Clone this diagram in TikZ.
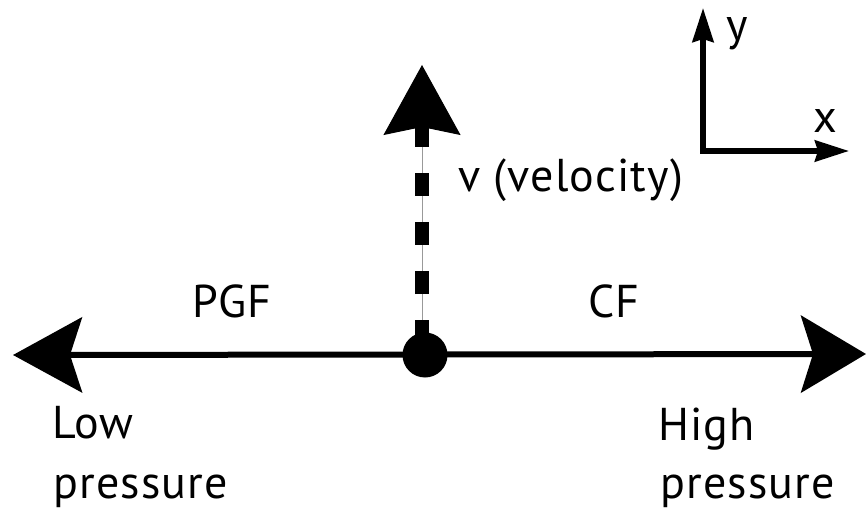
\documentclass[tikz,border=0pt]{standalone}
\usepackage{fontspec}
\setmainfont{PT Sans}[LetterSpace=2.5]
\usetikzlibrary{arrows.meta}
\begin{document}
\begin{tikzpicture}[x=1pt,y=-1pt,
  lbl/.style={inner sep=0pt, anchor=base west, font=\fontsize{46}{56}\selectfont},
  mainline/.style={line width=6pt},
  axisline/.style={line width=5.5pt, line join=miter,
    {Stealth[length=34pt,width=21pt,inset=3pt]}-{Stealth[length=34pt,width=21pt,inset=3pt]}},
  dotnode/.style={circle, fill=black, inner sep=0pt, minimum size=45pt}]
\useasboundingbox (0,0) rectangle (866,510);
% main horizontal line
\coordinate (L) at (13,355);
\coordinate (R) at (866,354);
\draw[mainline, {Stealth[length=69pt,width=75pt,inset=12pt]}-{Stealth[length=65pt,width=77pt,inset=12pt]}] (L) -- (R);
% velocity arrow
\coordinate (V) at (422,65);
\coordinate (Vs) at (422,343);
\coordinate (Ve) at (422,124);
\draw[line width=1pt, black!40] (Vs) -- (Ve);
\draw[line width=14pt, dash pattern=on 23pt off 26pt] (Vs) -- (Ve);
\draw[line width=1pt, black!40, -{Stealth[length=70pt,width=77pt,inset=8pt,black]}] (Ve) -- (V);
\node[dotnode] (D) at (425,355) {};
% axes
\coordinate (O) at (703,151);
\coordinate (Y) at (703,8);
\coordinate (X) at (849,151);
\draw[axisline] (Y) -- (O) -- (X);
% labels
\node[lbl] (pgf) at (192,317) {PGF};
\node[lbl] (cf) at (588,317) {CF};
\node[lbl] (vel) at (458,192) {v (velocity)};
\node[lbl] (low1) at (52,438) {Low};
\node[lbl] (low2) at (53,498) {pressure};
\node[lbl] (high1) at (658,440) {High};
\node[lbl] (high2) at (660,498) {pressure};
\node[lbl] (ylab) at (726,41) {y};
\node[lbl] (xlab) at (813,133) {x};
\end{tikzpicture}
\end{document}
